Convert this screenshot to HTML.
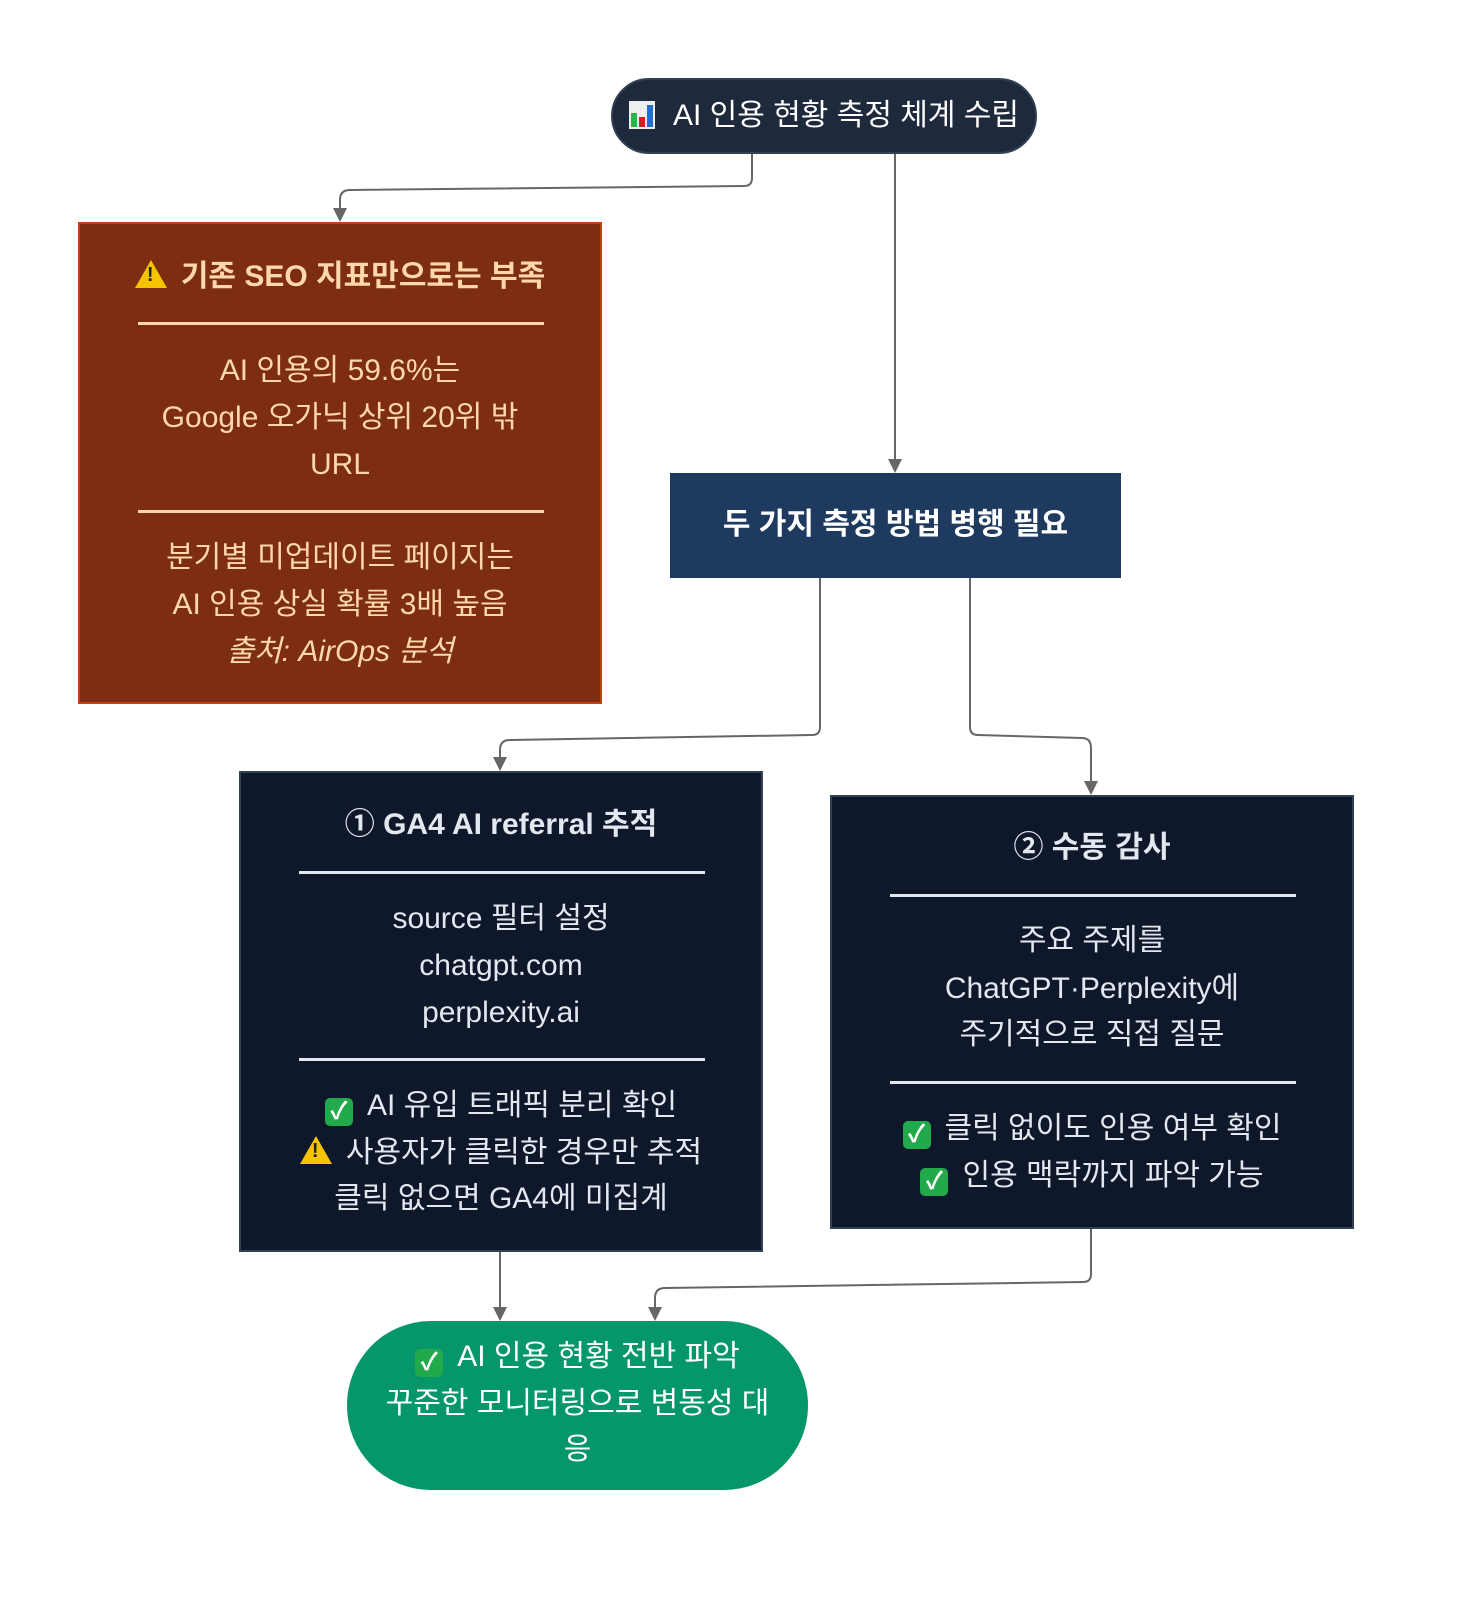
<!DOCTYPE html>
<html><head><meta charset="utf-8"><style>
body{margin:0;background:#fff;width:1466px;height:1606px;position:relative;overflow:hidden;font-family:"Liberation Sans","Noto Sans CJK KR",sans-serif;}
.box{position:absolute;box-sizing:border-box;}
.t{position:absolute;left:0;right:0;text-align:center;font-size:30px;line-height:34px;white-space:nowrap;}
.b{font-weight:bold;}
.hr{position:absolute;height:3px;}
.ck{display:inline-block;width:28px;height:28px;background:#22a94b;border-radius:5px;color:#fff;font-size:24px;line-height:28px;text-align:center;vertical-align:-4px;margin-right:14px;font-weight:bold;}
.wn{display:inline-block;width:0;height:0;border-left:16px solid transparent;border-right:16px solid transparent;border-bottom:28px solid #f5c400;vertical-align:-2px;margin-right:14px;position:relative;}
.wn:after{content:"!";position:absolute;left-4px;left:-4px;top:4px;font-size:20px;line-height:22px;color:#222;font-weight:bold;}
</style></head><body>
<svg width="1466" height="1606" style="position:absolute;left:0;top:0">
<g fill="none" stroke="#666" stroke-width="2">
<path d="M752,154 V178 Q752,186 744,186 L350,190 Q340,190 340,200 V214"/>
<path d="M895,154 V465"/>
<path d="M820,577 V727 Q820,735 812,735 L510,740 Q500,740 500,750 V763"/>
<path d="M970,577 V727 Q970,735 978,735 L1082,738 Q1091,738 1091,748 V787"/>
<path d="M500,1251 V1313"/>
<path d="M1091,1228 V1274 Q1091,1282 1083,1282 L665,1288 Q655,1288 655,1298 V1313"/>
</g>
<g fill="#666">
<path d="M333,208 L347,208 L340,222 z"/>
<path d="M888,459 L902,459 L895,473 z"/>
<path d="M493,757 L507,757 L500,771 z"/>
<path d="M1084,781 L1098,781 L1091,795 z"/>
<path d="M493,1307 L507,1307 L500,1321 z"/>
<path d="M648,1307 L662,1307 L655,1321 z"/>
</g>
</svg>

<div class="box" style="left:611px;top:78px;width:426px;height:76px;background:#1e293b;border-radius:38px;border:2px solid #334155;">
<div class="t" style="top:19px;color:#fff;"><span style="display:inline-block;width:26px;height:28px;vertical-align:-4px;margin-right:18px;position:relative;background:#eee;"><span style="position:absolute;left:2px;bottom:2px;width:6px;height:14px;background:#2bb34a"></span><span style="position:absolute;left:10px;bottom:2px;width:6px;height:10px;background:#d21f1f"></span><span style="position:absolute;left:18px;bottom:2px;width:6px;height:22px;background:#1f6fd2"></span></span>AI 인용 현황 측정 체계 수립</div>
</div>

<div class="box" style="left:78px;top:222px;width:524px;height:482px;background:#7c2d12;border:2px solid #c2410c;color:#fed7aa;">
<div class="t b" style="top:36px;"><span class="wn"></span>기존 SEO 지표만으로는 부족</div>
<div class="hr" style="left:58px;width:406px;top:98px;background:#fed7aa"></div>
<div class="t" style="top:130px;">AI 인용의 59.6%는</div>
<div class="t" style="top:177px;">Google 오가닉 상위 20위 밖</div>
<div class="t" style="top:224px;">URL</div>
<div class="hr" style="left:58px;width:406px;top:286px;background:#fed7aa"></div>
<div class="t" style="top:317px;">분기별 미업데이트 페이지는</div>
<div class="t" style="top:364px;">AI 인용 상실 확률 3배 높음</div>
<div class="t" style="top:411px;font-style:italic;">출처: AirOps 분석</div>
</div>

<div class="box" style="left:670px;top:473px;width:451px;height:105px;background:#1e3a5f;color:#fff;">
<div class="t b" style="top:35px;">두 가지 측정 방법 병행 필요</div>
</div>

<div class="box" style="left:239px;top:771px;width:524px;height:481px;background:#0f172a;border:2px solid #334155;color:#e2e8f0;">
<div class="t b" style="top:35px;">① GA4 AI referral 추적</div>
<div class="hr" style="left:58px;width:406px;top:98px;background:#e2e8f0"></div>
<div class="t" style="top:129px;">source 필터 설정</div>
<div class="t" style="top:176px;">chatgpt.com</div>
<div class="t" style="top:223px;">perplexity.ai</div>
<div class="hr" style="left:58px;width:406px;top:285px;background:#e2e8f0"></div>
<div class="t" style="top:316px;"><span class="ck">✓</span>AI 유입 트래픽 분리 확인</div>
<div class="t" style="top:363px;"><span class="wn"></span>사용자가 클릭한 경우만 추적</div>
<div class="t" style="top:409px;">클릭 없으면 GA4에 미집계</div>
</div>

<div class="box" style="left:830px;top:795px;width:524px;height:434px;background:#0f172a;border:2px solid #334155;color:#e2e8f0;">
<div class="t b" style="top:34px;">② 수동 감사</div>
<div class="hr" style="left:58px;width:406px;top:97px;background:#e2e8f0"></div>
<div class="t" style="top:127px;">주요 주제를</div>
<div class="t" style="top:175px;">ChatGPT·Perplexity에</div>
<div class="t" style="top:221px;">주기적으로 직접 질문</div>
<div class="hr" style="left:58px;width:406px;top:284px;background:#e2e8f0"></div>
<div class="t" style="top:315px;"><span class="ck">✓</span>클릭 없이도 인용 여부 확인</div>
<div class="t" style="top:362px;"><span class="ck">✓</span>인용 맥락까지 파악 가능</div>
</div>

<div class="box" style="left:347px;top:1321px;width:461px;height:169px;background:#059669;border-radius:84px;color:#fff;">
<div class="t" style="top:19px;"><span class="ck">✓</span>AI 인용 현황 전반 파악</div>
<div class="t" style="top:66px;">꾸준한 모니터링으로 변동성 대</div>
<div class="t" style="top:112px;">응</div>
</div>
</body></html>
